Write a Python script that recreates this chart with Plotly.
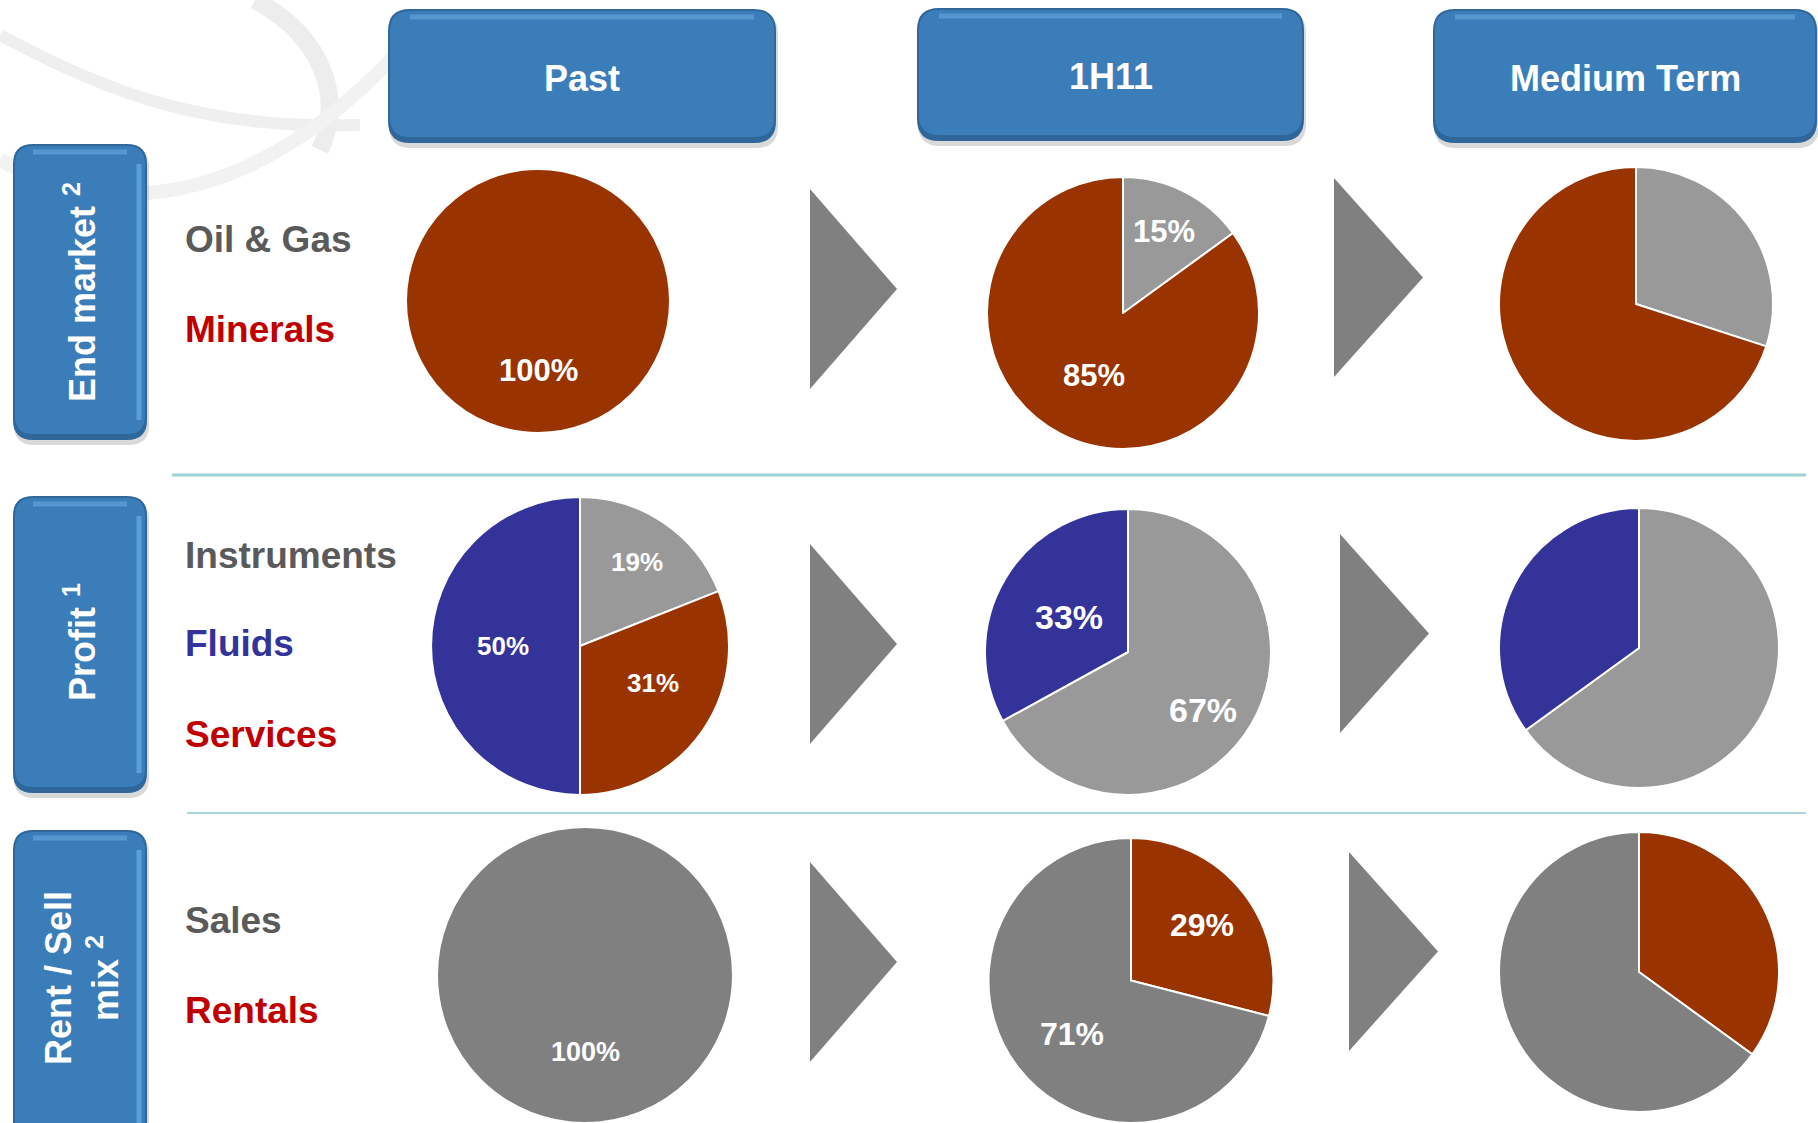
import math
import plotly.graph_objects as go

W, H = 1818, 1123
FONT = "Liberation Sans, Arial, Helvetica, sans-serif"

# ---------------- data ----------------
periods = ["Past", "1H11", "Medium Term"]
row_titles = ["End market <sup>2</sup>", "Profit <sup>1</sup>", "Rent / Sell<br>mix <sup>2</sup>"]

row1_legend = ["Oil & Gas", "Minerals"]
row2_legend = ["Instruments", "Fluids", "Services"]
row3_legend = ["Sales", "Rentals"]

em_past_labels = ["Minerals"]
em_past_values = [100]
em_1h11_labels = ["Oil & Gas", "Minerals"]
em_1h11_values = [15, 85]
em_med_labels = ["Oil & Gas", "Minerals"]
em_med_values = [30, 70]

pr_past_labels = ["Instruments", "Services", "Fluids"]
pr_past_values = [19, 31, 50]
pr_1h11_labels = ["Instruments", "Fluids"]
pr_1h11_values = [67, 33]
pr_med_labels = ["Instruments", "Fluids"]
pr_med_values = [65, 35]

rs_past_labels = ["Sales"]
rs_past_values = [100]
rs_1h11_labels = ["Rentals", "Sales"]
rs_1h11_values = [29, 71]
rs_med_labels = ["Rentals", "Sales"]
rs_med_values = [35, 65]

# ---------------- styles ----------------
slice_colors = {"Oil & Gas": "#999999", "Minerals": "#993300", "Instruments": "#999999",
                "Fluids": "#333399", "Services": "#993300", "Sales": "#808080", "Rentals": "#993300"}
text_colors = {"Oil & Gas": "#5a5a5a", "Minerals": "#C00000", "Instruments": "#5a5a5a",
               "Fluids": "#333399", "Services": "#C00000", "Sales": "#5a5a5a", "Rentals": "#C00000"}

# pie geometry (center x, center y, radius) in pixels, per row / period
pie_geom = [
    [(538, 301, 132), (1123, 313, 136), (1636, 304, 137)],
    [(580, 646, 149), (1128, 652, 143), (1639, 648, 140)],
    [(585, 977, 150), (1131, 983, 145), (1639, 972, 140)],
]
# label placement per slice: (radial fraction, angle offset in degrees); None = no labels
pct_place = [
    [[(0.53, 0)], [(0.67, 0), (0.51, -2)], None],
    [[(0.68, 0), (0.55, -7), (0.52, 0)], [(0.66, 7), (0.48, 0)], None],
    [[(0.52, 0)], [(0.63, 0), (0.56, -4)], None],
]
pct_size = [[31, 31, 0], [26, 34, 0], [27, 32, 0]]

legend_y = [[239, 329], [555, 643, 734], [920, 1010]]
header_boxes = [(388, 9, 776, 143), (917, 8, 1304, 141), (1433, 9, 1817, 143)]
side_boxes = [(13, 144, 147, 440), (13, 496, 147, 793), (13, 830, 147, 1160)]
side_text_pos = [(80, 292), (80, 642), (82, 978)]
arrows = [
    [(810, 189, 897, 389), (1334, 178, 1423, 377)],
    [(810, 544, 897, 744), (1340, 534, 1429, 733)],
    [(810, 862, 897, 1062), (1349, 852, 1438, 1051)],
]

rows = [
    [(em_past_labels, em_past_values), (em_1h11_labels, em_1h11_values), (em_med_labels, em_med_values)],
    [(pr_past_labels, pr_past_values), (pr_1h11_labels, pr_1h11_values), (pr_med_labels, pr_med_values)],
    [(rs_past_labels, rs_past_values), (rs_1h11_labels, rs_1h11_values), (rs_med_labels, rs_med_values)],
]
legends = [row1_legend, row2_legend, row3_legend]

fig = go.Figure()
# invisible cartesian trace to hold a pixel coordinate system for decorations
fig.add_trace(go.Scatter(x=[], y=[], mode="markers", showlegend=False, hoverinfo="skip"))

shapes = []
annotations = []


def rrect(x0, y0, x1, y1, r):
    return (f"M{x0+r},{y0} L{x1-r},{y0} Q{x1},{y0} {x1},{y0+r} L{x1},{y1-r} Q{x1},{y1} {x1-r},{y1} "
            f"L{x0+r},{y1} Q{x0},{y1} {x0},{y1-r} L{x0},{y0+r} Q{x0},{y0} {x0+r},{y0} Z")


def add_box(x0, y0, x1, y1, r, side=False):
    shapes.append(dict(type="path", path=rrect(x0 + 1, y0 + 3, x1 + 2, y1 + 5, r), xref="x", yref="y",
                       fillcolor="rgba(0,0,0,0.15)", line=dict(width=0), layer="below"))
    shapes.append(dict(type="path", path=rrect(x0, y0, x1, y1, r), xref="x", yref="y",
                       fillcolor="#2f679b", line=dict(width=0), layer="below"))
    shapes.append(dict(type="path", path=rrect(x0 + 2, y0 + 2, x1 - 2, y1 - 6, r - 2), xref="x", yref="y",
                       fillcolor="#3A7DB9", line=dict(width=0), layer="below"))
    shapes.append(dict(type="path", path=f"M{x0 + r},{y0 + 8} L{x1 - r},{y0 + 8}", xref="x", yref="y",
                       line=dict(color="#5797d0", width=5), layer="below"))
    if side:
        shapes.append(dict(type="path", path=f"M{x1 - 8},{y0 + r} L{x1 - 8},{y1 - r}", xref="x", yref="y",
                           line=dict(color="#5a9fd9", width=5), layer="below"))


# faint background swirl
for p, c, w in [
    ("M 0,35 C 110,95 210,130 360,125", "#efefef", 12),
    ("M 255,0 C 320,35 345,95 320,150", "#ededed", 18),
    ("M 0,160 C 130,230 270,190 400,50", "#f2f2f2", 14),
]:
    shapes.append(dict(type="path", path=p, xref="x", yref="y", line=dict(color=c, width=w), layer="below"))

# header boxes
for (x0, y0, x1, y1), name in zip(header_boxes, periods):
    add_box(x0, y0, x1, y1, 22)
    annotations.append(dict(x=(x0 + x1) / 2, y=(y0 + y1) / 2 + 2, xref="x", yref="y", text=name,
                            showarrow=False, font=dict(family=FONT, size=36, color="white", weight="bold")))

# side boxes
for (x0, y0, x1, y1), title, (tx, ty) in zip(side_boxes, row_titles, side_text_pos):
    add_box(x0, y0, x1, y1, 20, side=True)
    annotations.append(dict(x=tx, y=ty, xref="x", yref="y", text=title, textangle=-90, showarrow=False,
                            font=dict(family=FONT, size=36, color="white", weight="bold")))

# separators
shapes.append(dict(type="line", x0=172, x1=1806, y0=475, y1=475, xref="x", yref="y",
                   line=dict(color="#9dd2d6", width=3), layer="below"))
shapes.append(dict(type="line", x0=187, x1=1806, y0=813, y1=813, xref="x", yref="y",
                   line=dict(color="#a9d6d9", width=2), layer="below"))

# arrows
for row in arrows:
    for (x0, ya, x1, yb) in row:
        shapes.append(dict(type="path", path=f"M{x0},{ya} L{x1},{(ya + yb) / 2} L{x0},{yb} Z", xref="x", yref="y",
                           fillcolor="#808080", line=dict(width=0), layer="below"))

# legends (category names)
for leg, ys in zip(legends, legend_y):
    for name, y in zip(leg, ys):
        annotations.append(dict(x=183, y=y, xref="x", yref="y", text=name, xanchor="left", showarrow=False,
                                font=dict(family=FONT, size=37, color=text_colors[name], weight="bold")))

# pies
for ri, row in enumerate(rows):
    for pi, (labels, values) in enumerate(row):
        cx, cy, r = pie_geom[ri][pi]
        dx = [max(0.0, (cx - r) / W), min(1.0, (cx + r) / W)]
        dy = [max(0.0, (H - cy - r) / H), min(1.0, (H - cy + r) / H)]
        fig.add_trace(go.Pie(
            labels=labels, values=values, sort=False, direction="clockwise", rotation=0,
            marker=dict(colors=[slice_colors[l] for l in labels], line=dict(color="white", width=2)),
            textinfo="none", hoverinfo="label+percent", showlegend=False,
            domain=dict(x=dx, y=dy),
        ))
        place = pct_place[ri][pi]
        if place:
            # effective geometry after clipping to the paper
            wpx = (dx[1] - dx[0]) * W
            hpx = (dy[1] - dy[0]) * H
            er = min(wpx, hpx) / 2
            ecx = (dx[0] + dx[1]) / 2 * W
            ecy = H - (dy[0] + dy[1]) / 2 * H
            total = sum(values)
            cum = 0
            for v, (f, off) in zip(values, place):
                mid = (cum + v / 2) / total * 2 * math.pi + math.radians(off)
                cum += v
                annotations.append(dict(
                    x=ecx + f * er * math.sin(mid), y=ecy - f * er * math.cos(mid), xref="x", yref="y",
                    text=f"{v}%", showarrow=False,
                    font=dict(family=FONT, size=pct_size[ri][pi], color="white", weight="bold")))

fig.update_layout(
    width=W, height=H, margin=dict(l=0, r=0, t=0, b=0),
    paper_bgcolor="white", plot_bgcolor="rgba(0,0,0,0)",
    xaxis=dict(range=[0, W], visible=False, fixedrange=True, domain=[0, 1]),
    yaxis=dict(range=[H, 0], visible=False, fixedrange=True, domain=[0, 1]),
    shapes=shapes, annotations=annotations, showlegend=False,
)

fig.write_html("out.html")
